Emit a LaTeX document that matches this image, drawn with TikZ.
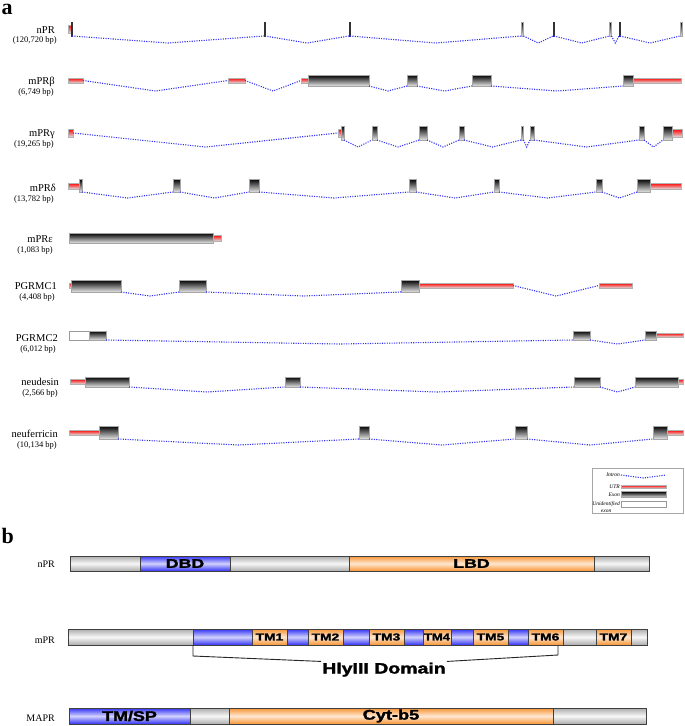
\documentclass[tikz,border=0pt]{standalone}
\usepackage{fontspec}
\setmainfont{Liberation Serif}
\setsansfont{Liberation Sans}
\newfontfamily\heavy{Liberation Sans}[BoldFeatures={FakeBold=1.6}]
\usepackage{graphicx}
\usetikzlibrary{calc}
\definecolor{orng}{RGB}{248,148,50}
\definecolor{blu}{RGB}{50,50,245}
\newcommand{\seg}[7]{\pgfmathsetmacro\segw{#4-#3}\pgfmathsetmacro\segh{#6-#5}%
  \node[#1, minimum width=\segw pt, minimum height=\segh pt, anchor=north west] (#2) at (#3,#5) {#7};}
\newcommand{\intr}[3]{\path ($(#1)!.5!(#2)$) coordinate (imid); \coordinate (ilev) at (0,#3);
  \draw[intron] (#1) -- (imid |- ilev) -- (#2);}
\newcommand{\glabel}[7]{\node[gname, anchor=base east] (#1) at (#2,#3) {#4};
  \node[gbp, anchor=base east] (#1bp) at (#5,#6) {#7};}
\tikzset{
  exon/.style={draw=gray!70, line width=0.4pt, top color=black, bottom color=gray!20, inner sep=0pt, outer sep=0pt},
  thinex/.style={draw=black!80, fill=black!85, line width=0.3pt, inner sep=0pt, outer sep=0pt},
  utr/.style={draw=gray!60, line width=0.4pt, top color=red, bottom color=gray!25, inner sep=0pt, outer sep=0pt},
  unid/.style={draw=gray!80, fill=white, line width=0.5pt, inner sep=0pt, outer sep=0pt},
  intron/.style={draw=blu, line width=1.1pt, dash pattern=on 1.1pt off 1.3pt},
  gname/.style={font=\fontsize{10.5}{12}\selectfont, inner sep=0pt},
  gbp/.style={font=\fontsize{8.5}{10}\selectfont, inner sep=0pt},
  plabel/.style={font=\fontsize{10}{12}\selectfont, inner sep=0pt},
  panellbl/.style={font=\fontsize{22}{22}\selectfont\bfseries, inner sep=0pt},
  legtxt/.style={font=\fontsize{5.5}{6.5}\selectfont\itshape, inner sep=0pt, align=center},
  bar/.style={draw=black!75, line width=0.7pt, inner sep=0pt, outer sep=0pt},
  gseg/.style={bar, top color=gray!65, bottom color=gray!65, middle color=gray!6},
  bseg/.style={bar, top color=blu, bottom color=blu, middle color=blu!22},
  oseg/.style={bar, top color=orng, bottom color=orng, middle color=orng!22},
  tmf/.style={font=\fontsize{10}{10}\heavy\bfseries},
  dbf/.style={font=\fontsize{12.5}{12.5}\heavy\bfseries},
  cyf/.style={font=\fontsize{14}{14}\heavy\bfseries},
  bracket/.style={draw=black!85, line width=0.9pt}
}
\begin{document}
\begin{tikzpicture}[x=1pt,y=-1pt]
\useasboundingbox (0,0) rectangle (685,726);
\fill[white] (0,0) rectangle (685,726);
\node[panellbl, anchor=base west] (pa) at (1.5,14.5) {a};
\node[panellbl, anchor=base west] (pb) at (1.5,543) {b};
% ---------- nPR
\glabel{l1}{55}{33}{nPR}{57}{42.5}{(120,720 bp)}
\seg{utr}{n0}{68}{71}{25}{33}{}
\seg{thinex}{n1}{71}{72}{22}{36}{}
\seg{thinex}{n2}{264}{265}{22}{36}{}
\seg{thinex}{n3}{349}{350}{22}{36}{}
\seg{exon}{n4}{521.5}{523.5}{22}{36}{}
\seg{thinex}{n5}{553}{554}{22}{36}{}
\seg{exon}{n6}{609.5}{611.5}{22}{36}{}
\seg{thinex}{n7}{619}{620}{22}{36}{}
\seg{exon}{n8}{680}{682}{22}{36}{}
\intr{n1.south east}{n2.south west}{43}
\intr{n2.south east}{n3.south west}{43}
\intr{n3.south east}{n4.south west}{43}
\intr{n4.south east}{n5.south west}{43}
\intr{n5.south east}{n6.south west}{43}
\intr{n6.south east}{n7.south west}{43}
\intr{n7.south east}{n8.south west}{43}
% ---------- mPRbeta
\glabel{l2}{55}{84.5}{mPRβ}{54}{94}{(6,749 bp)}
\seg{utr}{b0}{68}{83}{78}{83}{}
\seg{utr}{b1}{228}{245}{78}{83}{}
\seg{utr}{b2}{301}{308}{78}{83}{}
\seg{exon}{b3}{308}{369}{75}{86}{}
\seg{exon}{b4}{407}{417}{75}{86}{}
\seg{exon}{b5}{472}{491}{75}{86}{}
\seg{exon}{b6}{623}{633}{75}{86}{}
\seg{utr}{b7}{633}{681}{78}{83}{}
\intr{b0.east}{b1.west}{91}
\intr{b1.east}{b2.west}{91}
\intr{b3.south east}{b4.south west}{91}
\intr{b4.south east}{b5.south west}{91}
\intr{b5.south east}{b6.south west}{91}
% ---------- mPRgamma
\glabel{l3}{55}{136.5}{mPRγ}{54}{146}{(19,265 bp)}
\seg{utr}{g0}{68}{73}{129}{137}{}
\seg{utr}{g1}{338}{341}{129}{137}{}
\seg{exon}{g2}{341}{344}{126}{140}{}
\seg{exon}{g3}{372}{377}{126}{140}{}
\seg{exon}{g4}{419}{427}{126}{140}{}
\seg{exon}{g5}{459}{464}{126}{140}{}
\seg{exon}{g6}{521}{523.5}{126}{140}{}
\seg{exon}{g7}{530}{534}{126}{140}{}
\seg{exon}{g8}{639}{644}{126}{140}{}
\seg{exon}{g9}{663}{672}{126}{140}{}
\seg{utr}{g10}{672}{682}{129}{137}{}
\intr{g0.east}{g1.west}{147}
\intr{g2.south east}{g3.south west}{147}
\intr{g3.south east}{g4.south west}{147}
\intr{g4.south east}{g5.south west}{147}
\intr{g5.south east}{g6.south west}{147}
\intr{g6.south east}{g7.south west}{147}
\intr{g7.south east}{g8.south west}{147}
\intr{g8.south east}{g9.south west}{147}
% ---------- mPRdelta
\glabel{l4}{56}{191.5}{mPRδ}{54}{201}{(13,782 bp)}
\seg{utr}{d0}{68}{79}{183}{189}{}
\seg{exon}{d1}{79}{82}{179}{192}{}
\seg{exon}{d2}{173}{180}{179}{192}{}
\seg{exon}{d3}{249}{259}{179}{192}{}
\seg{exon}{d4}{409}{416}{179}{192}{}
\seg{exon}{d5}{494}{499}{179}{192}{}
\seg{exon}{d6}{596}{602}{179}{192}{}
\seg{exon}{d7}{637}{650}{179}{192}{}
\seg{utr}{d8}{650}{681}{183}{189}{}
\intr{d1.south east}{d2.south west}{198}
\intr{d2.south east}{d3.south west}{198}
\intr{d3.south east}{d4.south west}{198}
\intr{d4.south east}{d5.south west}{198}
\intr{d5.south east}{d6.south west}{198}
\intr{d6.south east}{d7.south west}{198}
% ---------- mPRepsilon
\glabel{l5}{53}{242.5}{mPRε}{53}{252}{(1,083 bp)}
\seg{exon}{e0}{69}{213}{233}{243}{}
\seg{utr}{e1}{213}{221}{235}{241}{}
% ---------- PGRMC1
\glabel{l6}{57}{289.5}{PGRMC1}{55}{299}{(4,408 bp)}
\seg{utr}{p0}{69}{71}{283}{288}{}
\seg{exon}{p1}{71}{121}{280}{292}{}
\seg{exon}{p2}{179}{206}{280}{292}{}
\seg{exon}{p3}{401}{419}{280}{292}{}
\seg{utr}{p4}{419}{513}{283}{288}{}
\seg{utr}{p5}{599}{632}{283}{288}{}
\intr{p1.south east}{p2.south west}{296}
\intr{p2.south east}{p3.south west}{296}
\intr{p4.east}{p5.west}{296}
% ---------- PGRMC2
\glabel{l7}{58}{341.5}{PGRMC2}{56}{351}{(6,012 bp)}
\seg{unid}{q0}{69}{89}{331}{340}{}
\seg{exon}{q1}{89}{106}{331}{340}{}
\seg{exon}{q2}{573}{590}{331}{340}{}
\seg{exon}{q3}{645}{656}{331}{340}{}
\seg{utr}{q4}{656}{683}{333}{337}{}
\intr{q1.south east}{q2.south west}{344}
\intr{q2.south east}{q3.south west}{344}
% ---------- neudesin
\glabel{l8}{59}{385.5}{neudesin}{58}{395}{(2,566 bp)}
\seg{utr}{u0}{70}{85}{379}{384}{}
\seg{exon}{u1}{85}{129}{377}{387}{}
\seg{exon}{u2}{285}{300}{377}{387}{}
\seg{exon}{u3}{574}{600}{377}{387}{}
\seg{exon}{u4}{635}{678}{377}{387}{}
\seg{utr}{u5}{678}{683}{379}{384}{}
\intr{u1.south east}{u2.south west}{392}
\intr{u2.south east}{u3.south west}{392}
\intr{u3.south east}{u4.south west}{392}
% ---------- neuferricin
\glabel{l9}{58}{437.5}{neuferricin}{57}{447}{(10,134 bp)}
\seg{utr}{f0}{69}{99}{430}{435}{}
\seg{exon}{f1}{99}{118}{426}{439}{}
\seg{exon}{f2}{359}{369}{426}{439}{}
\seg{exon}{f3}{515}{527}{426}{439}{}
\seg{exon}{f4}{653}{667}{426}{439}{}
\seg{utr}{f5}{667}{683}{430}{435}{}
\intr{f1.south east}{f2.south west}{445}
\intr{f2.south east}{f3.south west}{445}
\intr{f3.south east}{f4.south west}{445}
% ---------- legend
\seg{draw=gray!70, line width=0.6pt, inner sep=0pt}{lg}{592}{683}{468}{513}{}
\coordinate (li1) at (621,475);
\coordinate (li2) at (666,475);
\intr{li1}{li2}{478}
\node[legtxt, anchor=east] (lt1) at (620,475) {Intron};
\seg{utr}{lu}{621}{666}{485}{488.5}{}
\node[legtxt, anchor=east] (lt2) at (620,486.5) {UTR};
\seg{exon}{le}{621}{666}{491.5}{497.5}{}
\node[legtxt, anchor=east] (lt3) at (620,494.5) {Exon};
\seg{unid}{lw}{621}{666}{501.5}{507.5}{}
\node[legtxt, anchor=east] (lt4) at (620,507) {Unidentified\\exon};
% ---------- panel b : nPR
\node[plabel, anchor=base east] (bl1) at (55,567) {nPR};
\seg{gseg}{r1}{70}{140}{556}{571}{}
\seg{bseg,dbf}{r2}{140}{230}{556}{571}{\scalebox{1.42}[1]{DBD}}
\seg{gseg}{r3}{230}{349}{556}{571}{}
\seg{oseg,dbf}{r4}{349}{594}{556}{571}{\scalebox{1.42}[1]{LBD}}
\seg{gseg}{r5}{594}{649}{556}{571}{}
% ---------- panel b : mPR
\node[plabel, anchor=base east] (bl2) at (55,643) {mPR};
\seg{gseg}{m0}{68}{193}{629}{645}{}
\seg{bseg}{mb1}{193}{252}{629}{645}{}
\seg{oseg,tmf}{tm1}{252}{287}{629}{645}{\scalebox{1.38}[1]{TM1}}
\seg{bseg}{mb2}{287}{308}{629}{645}{}
\seg{oseg,tmf}{tm2}{308}{343}{629}{645}{\scalebox{1.38}[1]{TM2}}
\seg{bseg}{mb3}{343}{369}{629}{645}{}
\seg{oseg,tmf}{tm3}{369}{404}{629}{645}{\scalebox{1.38}[1]{TM3}}
\seg{bseg}{mb4}{404}{423}{629}{645}{}
\seg{oseg,tmf}{tm4}{423}{451}{629}{645}{\scalebox{1.3}[1]{TM4}}
\seg{bseg}{mb5}{451}{473}{629}{645}{}
\seg{oseg,tmf}{tm5}{473}{508}{629}{645}{\scalebox{1.38}[1]{TM5}}
\seg{bseg}{mb6}{508}{528}{629}{645}{}
\seg{oseg,tmf}{tm6}{528}{563}{629}{645}{\scalebox{1.38}[1]{TM6}}
\seg{gseg}{m7}{563}{596}{629}{645}{}
\seg{oseg,tmf}{tm7}{596}{631}{629}{645}{\scalebox{1.38}[1]{TM7}}
\seg{gseg}{m8}{631}{647}{629}{645}{}
\node[font=\fontsize{15}{15}\heavy\bfseries, inner sep=1pt, anchor=base] (hly) at (384,673.5) {\scalebox{1.3}[1]{HlyIII Domain}};
\coordinate (rtop) at ($(tm6.south east)+(-5,0)$);
\draw[bracket] (mb1.south west) -- ++(0,11) -- (hly.north west);
\draw[bracket] (hly.north east) -- ($(rtop)+(0,10)$) -- (rtop);
% ---------- panel b : MAPR
\node[plabel, anchor=base east] (bl3) at (55,721.5) {MAPR};
\seg{bseg,cyf}{a1}{69}{190}{708}{724}{\scalebox{1.28}[1]{TM/SP}}
\seg{gseg}{a2}{190}{229}{708}{724}{}
\seg{oseg,cyf}{a3}{229}{553}{708}{724}{\scalebox{1.3}[1]{Cyt-b5}}
\seg{gseg}{a4}{553}{646}{708}{724}{}
\end{tikzpicture}
\end{document}
